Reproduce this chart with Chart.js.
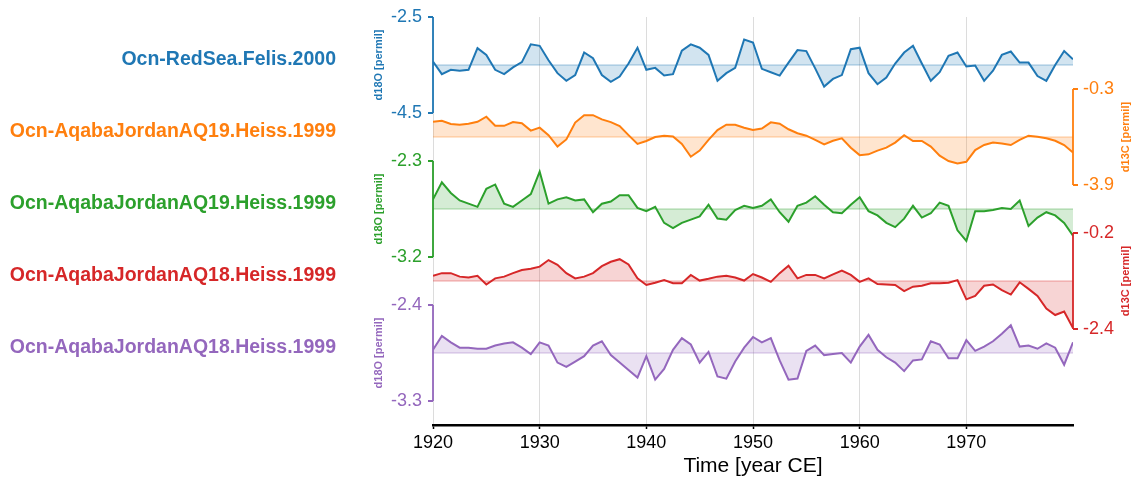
<!DOCTYPE html>
<html><head><meta charset="utf-8">
<script src="https://cdn.jsdelivr.net/npm/chart.js@4.4.1/dist/chart.umd.min.js"></script>
<style>html,body{margin:0;padding:0;background:#fff;}canvas{display:block;}</style>
</head><body>
<canvas id="c" width="1141" height="487"></canvas>
<script>
// ---------- data ----------
const years = [1920.00,1920.83,1921.67,1922.50,1923.33,1924.17,1925.00,1925.83,1926.67,1927.50,
1928.33,1929.17,1930.00,1930.83,1931.67,1932.50,1933.33,1934.17,1935.00,1935.83,
1936.67,1937.50,1938.33,1939.17,1940.00,1940.83,1941.67,1942.50,1943.33,1944.17,
1945.00,1945.83,1946.67,1947.50,1948.33,1949.17,1950.00,1950.83,1951.67,1952.50,
1953.33,1954.17,1955.00,1955.83,1956.67,1957.50,1958.33,1959.17,1960.00,1960.83,
1961.67,1962.50,1963.33,1964.17,1965.00,1965.83,1966.67,1967.50,1968.33,1969.17,
1970.00,1970.83,1971.67,1972.50,1973.33,1974.17,1975.00,1975.83,1976.67,1977.50,
1978.33,1979.17,1980.00];

const redSeaFelis_d18O = [-3.43,-3.69,-3.60,-3.62,-3.60,-3.15,-3.29,-3.60,-3.69,-3.55,
-3.44,-3.07,-3.10,-3.40,-3.67,-3.83,-3.71,-3.24,-3.36,-3.71,
-3.85,-3.74,-3.47,-3.14,-3.60,-3.56,-3.72,-3.69,-3.20,-3.07,
-3.14,-3.29,-3.83,-3.67,-3.56,-2.97,-3.03,-3.58,-3.65,-3.72,
-3.45,-3.19,-3.21,-3.57,-3.95,-3.79,-3.71,-3.17,-3.14,-3.67,
-3.90,-3.76,-3.47,-3.24,-3.10,-3.47,-3.83,-3.65,-3.31,-3.24,
-3.53,-3.51,-3.83,-3.62,-3.29,-3.22,-3.45,-3.45,-3.73,-3.83,
-3.50,-3.21,-3.38];

const aq19_d13C = [-1.53,-1.49,-1.61,-1.64,-1.60,-1.53,-1.34,-1.68,-1.68,-1.54,
-1.58,-1.86,-1.75,-2.03,-2.46,-2.19,-1.56,-1.28,-1.28,-1.44,
-1.54,-1.69,-2.03,-2.36,-2.25,-2.10,-2.05,-2.08,-2.36,-2.84,
-2.61,-2.21,-1.84,-1.64,-1.64,-1.75,-1.84,-1.78,-1.55,-1.60,
-1.81,-1.96,-2.05,-2.21,-2.38,-2.24,-2.15,-2.50,-2.78,-2.75,
-2.61,-2.50,-2.31,-2.03,-2.25,-2.25,-2.46,-2.80,-3.00,-3.09,
-3.03,-2.59,-2.40,-2.31,-2.34,-2.40,-2.21,-2.05,-2.09,-2.15,
-2.24,-2.40,-2.68];

const aq19_d18O = [-2.66,-2.50,-2.60,-2.67,-2.70,-2.73,-2.56,-2.52,-2.70,-2.73,
-2.67,-2.61,-2.40,-2.70,-2.66,-2.64,-2.67,-2.66,-2.78,-2.70,
-2.68,-2.62,-2.62,-2.74,-2.77,-2.73,-2.88,-2.93,-2.88,-2.85,
-2.82,-2.71,-2.84,-2.85,-2.76,-2.72,-2.74,-2.72,-2.66,-2.78,
-2.87,-2.72,-2.69,-2.63,-2.71,-2.78,-2.79,-2.71,-2.64,-2.77,
-2.81,-2.88,-2.92,-2.84,-2.72,-2.83,-2.79,-2.69,-2.72,-2.95,
-3.05,-2.77,-2.77,-2.76,-2.74,-2.75,-2.67,-2.91,-2.83,-2.78,
-2.81,-2.88,-3.00];

const aq18_d13C = [-1.18,-1.12,-1.12,-1.20,-1.22,-1.18,-1.38,-1.24,-1.20,-1.12,
-1.05,-1.02,-0.97,-0.82,-0.93,-1.12,-1.24,-1.20,-1.12,-0.96,
-0.86,-0.80,-0.92,-1.24,-1.39,-1.34,-1.28,-1.35,-1.35,-1.16,
-1.29,-1.25,-1.20,-1.18,-1.22,-1.29,-1.14,-1.22,-1.32,-1.12,
-0.95,-1.24,-1.16,-1.16,-1.24,-1.15,-1.06,-1.16,-1.32,-1.24,
-1.37,-1.38,-1.39,-1.53,-1.43,-1.41,-1.35,-1.35,-1.34,-1.28,
-1.72,-1.64,-1.41,-1.38,-1.51,-1.61,-1.33,-1.48,-1.64,-1.93,
-2.08,-2.00,-2.38];

const aq18_d18O = [-2.82,-2.69,-2.75,-2.80,-2.80,-2.81,-2.81,-2.78,-2.76,-2.75,
-2.80,-2.86,-2.75,-2.78,-2.94,-2.98,-2.93,-2.88,-2.78,-2.74,
-2.87,-2.94,-3.01,-3.08,-2.88,-3.10,-3.00,-2.82,-2.71,-2.77,
-2.94,-2.84,-3.07,-3.09,-2.93,-2.80,-2.70,-2.75,-2.71,-2.92,
-3.10,-3.09,-2.83,-2.78,-2.87,-2.86,-2.85,-2.94,-2.79,-2.68,
-2.82,-2.89,-2.94,-3.02,-2.92,-2.91,-2.74,-2.77,-2.90,-2.90,
-2.73,-2.83,-2.79,-2.74,-2.67,-2.59,-2.79,-2.78,-2.81,-2.76,
-2.80,-2.96,-2.75];

const seriesNames = ['Ocn-RedSea.Felis.2000','Ocn-AqabaJordanAQ19.Heiss.1999','Ocn-AqabaJordanAQ19.Heiss.1999','Ocn-AqabaJordanAQ18.Heiss.1999','Ocn-AqabaJordanAQ18.Heiss.1999'];
const seriesValues = [redSeaFelis_d18O, aq19_d13C, aq19_d18O, aq18_d13C, aq18_d18O];
const seriesMean = [-3.5, -2.1, -2.75, -1.3, -2.85];
const yTickLabels = [[-2.5,-4.5],[-0.3,-3.9],[-2.3,-3.2],[-0.2,-2.4],[-2.4,-3.3]];
const yAxisTitles = ['d18O [permil]','d13C [permil]','d18O [permil]','d13C [permil]','d18O [permil]'];
const xTicks = [1920,1930,1940,1950,1960,1970];
const xTitle = 'Time [year CE]';

// ---------- styling / layout ----------
const seriesColors = ['#1f77b4','#ff7f0e','#2ca02c','#d62728','#9467bd'];
const FAM = '"Liberation Sans", Arial, Helvetica, sans-serif';
const AREA = 408, BAND = 96, STEP = 72;

function rgba(hex, a){
  const n = parseInt(hex.slice(1),16);
  return `rgba(${(n>>16)&255},${(n>>8)&255},${n&255},${a})`;
}

const datasets = [];
const scales = {
  x: {
    type:'linear', min: years[0], max: years[years.length-1],
    afterBuildTicks: s => { s.ticks = xTicks.map(v => ({value:v})); },
    ticks:{ color:'#000', font:{size:18, family:FAM}, padding:3, maxRotation:0, autoSkip:false, callback: v => String(v) },
    grid:{ color:'#dcdcdc', lineWidth:1, tickColor:'#000', tickLength:4, tickWidth:1.5 },
    border:{ color:'#000', width:2.5 },
    title:{ display:true, text:xTitle, color:'#000', font:{size:21, family:FAM, lineHeight:0.876}, padding:{top:0, bottom:0} }
  }
};

seriesValues.forEach((vals, k) => {
  const [hi, lo] = yTickLabels[k];
  const u = (hi - lo) / BAND;
  scales['y'+k] = { display:false, min: lo - (AREA - STEP*k - BAND)*u, max: hi + STEP*k*u };
  const col = seriesColors[k];
  datasets.push({
    data: years.map((x,i) => ({x, y: vals[i]})),
    yAxisID:'y'+k, borderColor: col, borderWidth: 2, pointRadius: 0, tension: 0,
    fill: {value: seriesMean[k]}, backgroundColor: rgba(col, 0.2)
  });
  datasets.push({
    data: [{x: years[0], y: seriesMean[k]}, {x: years[years.length-1], y: seriesMean[k]}],
    yAxisID:'y'+k, borderColor: rgba(col, 0.28), borderWidth: 1.5, pointRadius: 0, fill:false
  });
});

const stackAxes = {
  id:'stackAxes',
  afterDatasetsDraw(chart){
    const ctx = chart.ctx, ca = chart.chartArea;
    seriesNames.forEach((name, k) => {
      const sc = chart.scales['y'+k];
      const [hi, lo] = yTickLabels[k];
      const yt = sc.getPixelForValue(hi), yb = sc.getPixelForValue(lo);
      const ym = sc.getPixelForValue(seriesMean[k]);
      const left = (k % 2 === 0);
      const x = left ? ca.left : ca.right;
      const col = seriesColors[k];
      ctx.save();
      ctx.strokeStyle = col; ctx.lineWidth = 1.8; ctx.lineCap = 'butt';
      ctx.beginPath(); ctx.moveTo(x, yt); ctx.lineTo(x, yb); ctx.stroke();
      const d = left ? -5 : 5;
      ctx.beginPath();
      ctx.moveTo(x, yt); ctx.lineTo(x + d, yt);
      ctx.moveTo(x, yb); ctx.lineTo(x + d, yb);
      ctx.stroke();
      ctx.fillStyle = col;
      ctx.font = '18px ' + FAM;
      ctx.textBaseline = 'middle';
      ctx.textAlign = left ? 'right' : 'left';
      const lx = left ? x - 11 : x + 10;
      ctx.fillText(String(hi), lx, yt);
      ctx.fillText(String(lo), lx, yb);
      // axis title
      ctx.save();
      ctx.font = 'bold 11px ' + FAM;
      ctx.translate(left ? x - 54.5 : x + 53, (yt + yb) / 2);
      ctx.rotate(-Math.PI / 2);
      ctx.textAlign = 'center'; ctx.textBaseline = 'middle';
      ctx.fillText(yAxisTitles[k], 0, 0);
      ctx.restore();
      // series name
      ctx.font = 'bold 19.5px ' + FAM;
      ctx.textAlign = 'right'; ctx.textBaseline = 'alphabetic';
      ctx.fillText(name, 336, ym);
      ctx.restore();
    });
  }
};

new Chart(document.getElementById('c'), {
  type:'line',
  data:{ datasets },
  options:{
    responsive:false, animation:false, devicePixelRatio:1,
    layout:{ padding:{ left:433, right:68, top:17, bottom:12 } },
    plugins:{ legend:{display:false}, tooltip:{enabled:false} },
    scales
  },
  plugins:[stackAxes]
});
</script>
</body></html>
